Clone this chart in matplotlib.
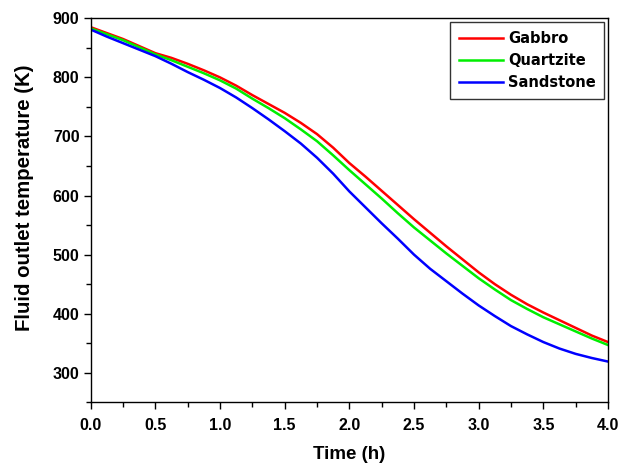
import matplotlib
matplotlib.use('Agg')
import matplotlib.pyplot as plt
from matplotlib.ticker import MultipleLocator

plt.rcParams['font.family'] = ['Liberation Sans', 'DejaVu Sans']
plt.rcParams['font.weight'] = 'bold'

# Data (every 0.125 h)
time_h = [0.0, 0.125, 0.25, 0.375, 0.5, 0.625, 0.75, 0.875, 1.0,
          1.125, 1.25, 1.375, 1.5, 1.625, 1.75, 1.875, 2.0,
          2.125, 2.25, 2.375, 2.5, 2.625, 2.75, 2.875, 3.0,
          3.125, 3.25, 3.375, 3.5, 3.625, 3.75, 3.875, 4.0]
gabbro = [885, 875, 865, 853, 841, 833, 823, 812, 800,
          786, 770, 755, 740, 723, 704, 681, 655,
          632, 608, 584, 560, 537, 514, 492, 470,
          450, 432, 416, 402, 389, 376, 363, 352]
quartzite = [883, 873, 863, 851, 839, 829, 818, 807, 795,
             781, 764, 748, 731, 712, 692, 668, 643,
             619, 595, 570, 546, 524, 502, 481, 460,
             441, 423, 408, 394, 382, 370, 358, 347]
sandstone = [881, 869, 858, 847, 836, 823, 809, 796, 782,
             766, 748, 729, 709, 688, 664, 637, 607,
             580, 553, 527, 500, 476, 455, 434, 414,
             396, 379, 365, 352, 341, 332, 325, 319]

series = [('Gabbro', gabbro, '#ff0000'),
          ('Quartzite', quartzite, '#00ee00'),
          ('Sandstone', sandstone, '#0000ff')]

fig = plt.figure(figsize=(6.29, 4.65), dpi=100, facecolor='white')
ax = fig.add_axes([0.1442, 0.1348, 0.8224, 0.8258])

for name, vals, col in series:
    ax.plot(time_h, vals, color=col, linewidth=1.8, label=name)

ax.set_xlim(0, 4.0)
ax.set_ylim(250, 900)
ax.xaxis.set_minor_locator(MultipleLocator(0.25))
ax.yaxis.set_minor_locator(MultipleLocator(50))
ax.set_yticks([300, 400, 500, 600, 700, 800, 900])
ax.set_xticks([0, 0.5, 1.0, 1.5, 2.0, 2.5, 3.0, 3.5, 4.0])
ax.set_xticklabels([f'{v:.1f}' for v in ax.get_xticks()])

ax.tick_params(which='major', direction='out', length=5, width=1.0,
               labelsize=11.5, top=False, right=False)
ax.tick_params(axis='x', which='major', pad=6)
ax.tick_params(axis='y', which='major', pad=3)
ax.tick_params(which='minor', direction='out', length=3.5, width=1.0,
               top=False, right=False)
for s in ax.spines.values():
    s.set_linewidth(1.0)

ax.set_xlabel('Time (h)', fontsize=13.5, fontweight='bold', labelpad=10)
ax.set_ylabel('Fluid outlet temperature (K)', fontsize=14.7, fontweight='bold')
ax.yaxis.set_label_coords(-0.11, 0.533)

leg = ax.legend(loc='upper right', handlelength=3.0,
                prop={'family': 'DejaVu Sans', 'weight': 'bold', 'size': 10.5},
                frameon=True, fancybox=False, borderaxespad=0.25,
                labelspacing=0.5, handletextpad=0.35, borderpad=0.6)
leg.get_frame().set_edgecolor('#333333')
leg.get_frame().set_linewidth(1.0)
leg.get_frame().set_alpha(1.0)

fig.savefig('out.png', dpi=100)
